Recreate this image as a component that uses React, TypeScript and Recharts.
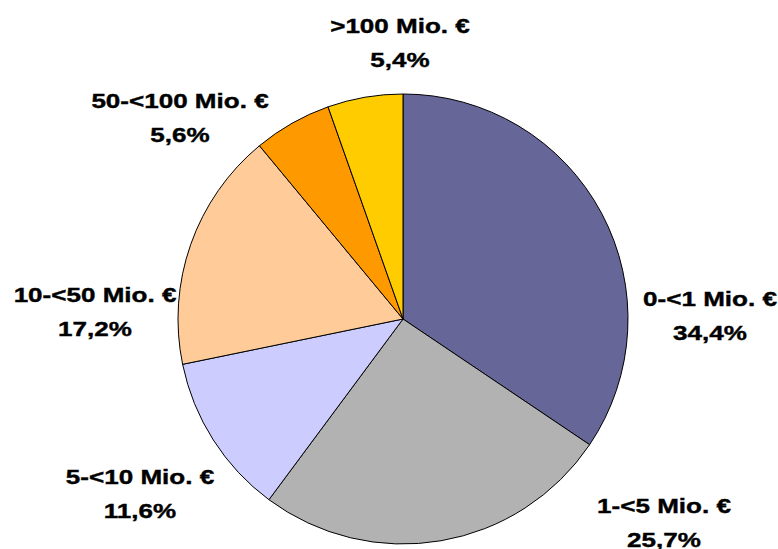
import React from "react";
import { PieChart, Pie, Cell } from "recharts";

// Size classes (turnover) and their share in percent
const categories = [
  "0-<1 Mio. €",
  "1-<5 Mio. €",
  "5-<10 Mio. €",
  "10-<50 Mio. €",
  "50-<100 Mio. €",
  ">100 Mio. €",
];
const shares = [34.4, 25.7, 11.6, 17.2, 5.6, 5.4];
const colors = ["#666699", "#B2B2B2", "#CCCCFF", "#FFCC99", "#FF9900", "#FFCC00"];

// Label placement: centre x and first baseline, relative to the pie centre
const labelOffsets = [
  { dx: 307, dy: -13 },
  { dx: 261, dy: 194 },
  { dx: -263, dy: 165 },
  { dx: -308, dy: -17 },
  { dx: -223, dy: -211 },
  { dx: -3, dy: -286 },
];

const data = categories.map((name, i) => ({ name, value: shares[i] }));

const fmt = (v: number) => v.toFixed(1).replace(".", ",") + "%";

const renderLabel = (props: any) => {
  const { cx, cy, index, value, name } = props;
  const off = labelOffsets[index];
  const x = cx + off.dx;
  const y = cy + off.dy;
  const common = {
    textAnchor: "middle" as const,
    fontFamily: "'Liberation Sans', Arial, sans-serif",
    fontWeight: 700,
    fontSize: 21,
    fill: "#000",
    stroke: "#000",
    strokeWidth: 0.4,
  };
  return (
    <g key={`lbl-${index}`}>
      <text {...common} x={0} y={0} transform={`translate(${x},${y}) scale(1.24,1)`}>
        {name}
      </text>
      <text {...common} x={0} y={0} transform={`translate(${x},${y + 34}) scale(1.24,1)`}>
        {fmt(value)}
      </text>
    </g>
  );
};

export default function App() {
  return (
    <div style={{ position: "absolute", left: 0, top: 0, width: 778, height: 549, background: "#fff" }}>
      <PieChart width={778} height={549} margin={{ top: 0, right: 0, bottom: 0, left: 0 }}>
        <Pie
          data={data}
          dataKey="value"
          nameKey="name"
          cx={403}
          cy={319}
          outerRadius={225}
          startAngle={90}
          endAngle={-270}
          stroke="#000"
          strokeWidth={1}
          label={renderLabel}
          labelLine={false}
          isAnimationActive={false}
        >
          {data.map((d, i) => (
            <Cell key={d.name} fill={colors[i]} />
          ))}
        </Pie>
      </PieChart>
    </div>
  );
}
